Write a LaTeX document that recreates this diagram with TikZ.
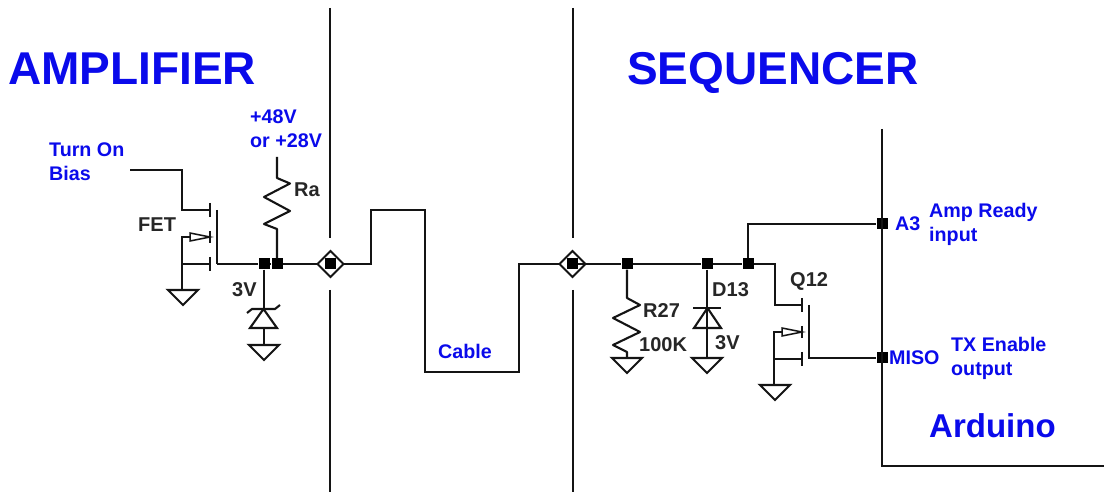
\documentclass[tikz,border=0pt]{standalone}
\usepackage{fontspec}
\setmainfont{Liberation Sans}
\usetikzlibrary{calc}
\definecolor{labelblue}{RGB}{10,10,235}
\definecolor{wirek}{RGB}{20,20,20}
\tikzset{
  x=1pt,y=-1pt,
  wire/.style={draw=wirek,line width=2.1pt,line join=miter},
  dotnode/.style={fill=black,draw=none,minimum size=11pt,inner sep=0pt,shape=rectangle},
  title/.style={text=labelblue,font=\bfseries\fontsize{46}{46}\selectfont,anchor=base west,inner sep=0pt},
  bluelabel/.style={text=labelblue,font=\bfseries\fontsize{19.7}{20}\selectfont,anchor=base west,inner sep=0pt},
  blacklabel/.style={text=black!85,font=\bfseries\fontsize{20}{20}\selectfont,anchor=base west,inner sep=0pt},
  arduinolabel/.style={text=labelblue,font=\bfseries\fontsize{33}{33}\selectfont,anchor=base west,inner sep=0pt},
  gnd/.pic={\draw[wire,line join=miter] (-15,0) -- (15,0) -- (0,15) -- cycle;},
  fetsym/.pic={
    % origin at gate-bar x, gate y
    \draw[wire] (0,-7) -- (0,7);
    \draw[wire] (7,0) -- (7,54);
    \draw[wire] (0,21) -- (0,33);
    \draw[wire] (0,47) -- (0,61);
    \draw[wire] (-20,27) -- (-28,27) -- (-28,54);
    \draw[wire] (-28,54) -- (0,54);
    \draw[draw=wirek,line width=1.5pt,fill=white] (0,27) -- (-20,23) -- (-20,31) -- cycle;
  },
  connsym/.pic={
    \draw[wire,fill=white] (-13,0) -- (0,-13) -- (13,0) -- (0,13) -- cycle;
  },
}
\begin{document}
\begin{tikzpicture}
\useasboundingbox (0,0) rectangle (1104,494);
\fill[white] (0,0) rectangle (1104,494);

% Divider lines
\coordinate (d1top) at (330,8);
\coordinate (d1a) at (330,238);
\coordinate (d1b) at (330,290);
\coordinate (d1bot) at (330,492);
\coordinate (d2top) at (573,8);
\coordinate (d2a) at (573,238);
\coordinate (d2b) at (573,290);
\coordinate (d2bot) at (573,492);
\draw[wire] (d1top) -- (d1a);
\draw[wire] (d1b) -- (d1bot);
\draw[wire] (d2top) -- (d2a);
\draw[wire] (d2b) -- (d2bot);

% Junction nodes
\node[dotnode] (j1) at (264,264) {};
\node[dotnode] (j2) at (277,264) {};
\node[dotnode] (c1) at (330.5,264) {};
\node[dotnode] (c2) at (572.5,264) {};
\node[dotnode] (j3) at (627,264) {};
\node[dotnode] (j4) at (707,264) {};
\node[dotnode] (j5) at (748,264) {};
\node[dotnode] (pa3) at (882,224) {};
\node[dotnode] (pmiso) at (882,358) {};

% Amplifier FET
\coordinate (turnon) at (130,170);
\coordinate (fetgate) at (210,210);
\coordinate (fetdrain) at (217,264);
\pic at (210,210) {fetsym};
\draw[wire] (turnon) -- (182,170) -- (182,210) -- (fetgate);
\draw[wire] (182,264) -- (182,290);
\pic at (183,290) {gnd};
\draw[wire] (fetdrain) -- (j1) -- (j2) -- (c1);

% Ra
\coordinate (vcc) at (277,157);
\draw[wire,line join=round] (vcc) -- (277,178) -- (290,183.5) -- (264,197) -- (290,211) -- (264,224) -- (277,229) -- (j2);

% Zener
\draw[wire] (j1) -- (264,309);
\draw[wire] (250,328) -- (277,328) -- (263.5,309) -- cycle;
\draw[wire] (247,313) -- (252,309) -- (275,309) -- (280,305);
\draw[wire] (264,328) -- (264,345);
\pic at (264,345) {gnd};

% Cable
\draw[wire] (c1) -- (371,264) -- (371,210) -- (425,210) -- (425,372) -- (519,372) -- (519,264) -- (c2);
\pic at (330.5,264) {connsym};
\pic at (572.5,264) {connsym};
\node[dotnode] at (c1) {};
\node[dotnode] at (c2) {};
\draw[wire] (c2) -- (j3) -- (j4) -- (j5);

% R27
\draw[wire,line join=round] (j3) -- (627,298) -- (640,305) -- (613,318) -- (640,332) -- (613,345) -- (627,352) -- (627,358);
\pic at (627,358) {gnd};

% D13
\draw[wire] (j4) -- (707,358);
\pic at (707,358) {gnd};
\draw[wire] (693,308) -- (721,308);
\draw[wire] (694,328) -- (721,328) -- (707.5,308) -- cycle;

% Q12
\pic at (802,305) {fetsym};
\draw[wire] (j5) -- (775,264) -- (775,305) -- (802,305);
\draw[wire] (774,359) -- (774,385);
\pic at (775,385) {gnd};
\draw[wire] (809,359) -- (809,358) -- (pmiso);
\draw[wire] (j5) -- (748,224) -- (pa3);

% Arduino box
\coordinate (ardtop) at (882,129);
\coordinate (ardcorner) at (882,466);
\coordinate (ardend) at (1104,466);
\draw[wire] (ardtop) -- (ardcorner) -- (ardend);

% Labels
\node[title] (tamp) at (8,85) {AMPLIFIER};
\node[title] (tseq) at (627,85) {SEQUENCER};
\node[bluelabel] (lt1) at (49,157) {Turn On};
\node[bluelabel] (lt2) at (49,181) {Bias};
\node[bluelabel] (lv1) at (250,124) {+48V};
\node[bluelabel] (lv2) at (250,148) {or +28V};
\node[blacklabel] (lfet) at (138,232) {FET};
\node[blacklabel] (lra) at (294,197) {Ra};
\node[blacklabel] (l3v) at (232,297) {3V};
\node[bluelabel] (lcable) at (438,359) {Cable};
\node[blacklabel] (lr27) at (643,318) {R27};
\node[blacklabel] (l100k) at (639,352) {100K};
\node[blacklabel] (ld13) at (712,297) {D13};
\node[blacklabel] (l3v2) at (715,350) {3V};
\node[blacklabel] (lq12) at (790,287) {Q12};
\node[bluelabel] (la3) at (895,231) {A3};
\node[bluelabel] (lamp1) at (929,218) {Amp Ready};
\node[bluelabel] (lamp2) at (929,242) {input};
\node[bluelabel] (lmiso) at (889,365) {MISO};
\node[bluelabel] (ltx1) at (951,352) {TX Enable};
\node[bluelabel] (ltx2) at (951,376) {output};
\node[arduinolabel] (lard) at (929,438) {Arduino};
\end{tikzpicture}
\end{document}
